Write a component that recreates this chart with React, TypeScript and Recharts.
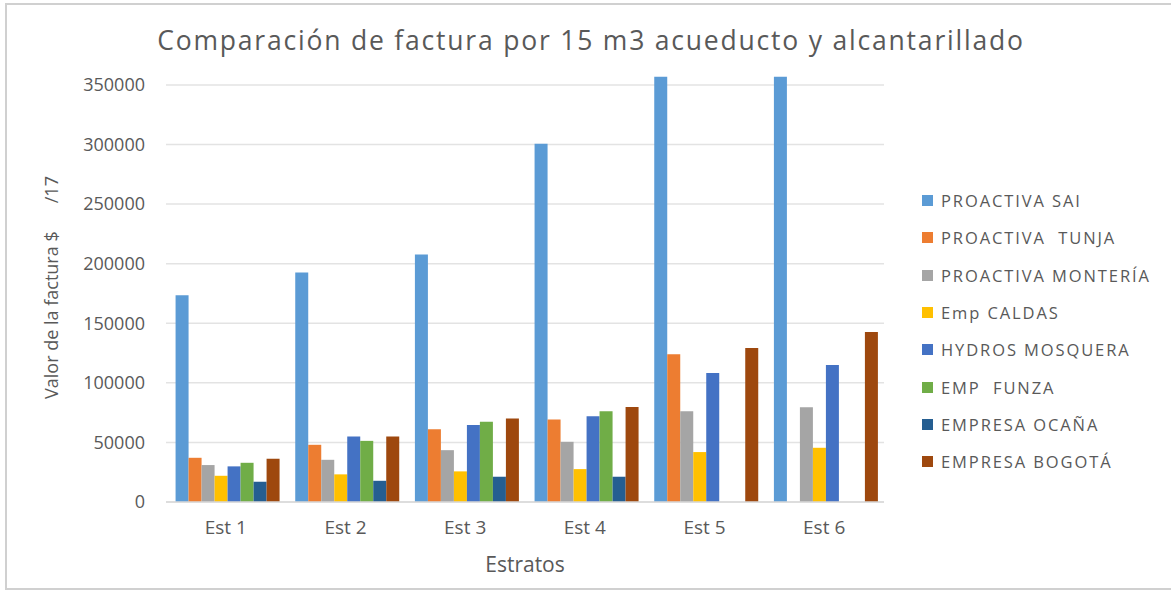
import React from "react";
import { BarChart, Bar, XAxis, YAxis, CartesianGrid } from "recharts";

const categories = ["Est 1", "Est 2", "Est 3", "Est 4", "Est 5", "Est 6"];

const proactivaSai = [173600, 192600, 207700, 300700, 356800, 356800];
const proactivaTunja = [37100, 48000, 61100, 69300, 124000, null];
const proactivaMonteria = [31000, 35400, 43500, 50500, 76200, 79600];
const empCaldas = [22000, 23200, 25700, 27600, 41900, 45500];
const hydrosMosquera = [29900, 55000, 64700, 72000, 108300, 115000];
const empFunza = [32900, 51300, 67300, 76200, null, null];
const empresaOcana = [17000, 17800, 21200, 21200, null, null];
const empresaBogota = [36300, 55000, 70100, 79800, 129200, 142600];

const yTicks = [0, 50000, 100000, 150000, 200000, 250000, 300000, 350000];
const yMax = 360000;

const series = [
  { key: "sai", name: "PROACTIVA SAI", color: "#5B9BD5", values: proactivaSai },
  { key: "tunja", name: "PROACTIVA  TUNJA", color: "#ED7D31", values: proactivaTunja },
  { key: "monteria", name: "PROACTIVA MONTERÍA", color: "#A5A5A5", values: proactivaMonteria },
  { key: "caldas", name: "Emp CALDAS", color: "#FFC000", values: empCaldas },
  { key: "mosquera", name: "HYDROS MOSQUERA", color: "#4472C4", values: hydrosMosquera },
  { key: "funza", name: "EMP  FUNZA", color: "#70AD47", values: empFunza },
  { key: "ocana", name: "EMPRESA OCAÑA", color: "#255E91", values: empresaOcana },
  { key: "bogota", name: "EMPRESA BOGOTÁ", color: "#9E480E", values: empresaBogota },
];

const data = categories.map((c, i) => {
  const row: Record<string, string | number | null> = { cat: c };
  series.forEach((s) => {
    row[s.key] = s.values[i];
  });
  return row;
});

const FONT = "'Open Sans', 'Liberation Sans', sans-serif";
const TEXT = "#595959";

// grid only at the tick values, no line at the top edge of the plot
function gridRows(props: any) {
  const scale = props?.yAxis?.scale;
  if (typeof scale === "function") return yTicks.map((t) => scale(t));
  const top = props?.offset?.top ?? 0;
  const h = props?.offset?.height ?? 0;
  return yTicks.map((t) => top + h * (1 - t / yMax));
}

function LegendList() {
  return (
    <div
      style={{
        position: "absolute",
        left: 922,
        top: 182,
        fontFamily: FONT,
        fontSize: 16.5,
        letterSpacing: 1.9,
        color: TEXT,
      }}
    >
      {series.map((s) => (
        <div
          key={s.key}
          style={{ display: "flex", alignItems: "center", height: 37.3, whiteSpace: "pre" }}
        >
          <span
            style={{
              display: "inline-block",
              width: 11,
              height: 11,
              background: s.color,
              marginRight: 8,
            }}
          />
          {s.name}
        </div>
      ))}
    </div>
  );
}

export default function App() {
  return (
    <div
      style={{
        position: "absolute",
        left: 0,
        top: 0,
        width: 1171,
        height: 597,
        background: "#fff",
        fontFamily: FONT,
      }}
    >
      <div
        style={{
          position: "absolute",
          left: 5,
          top: 3,
          width: 1166,
          height: 587,
          borderLeft: "2px solid #d0d0d0",
          borderTop: "2px solid #d0d0d0",
          borderBottom: "2px solid #d0d0d0",
          boxSizing: "border-box",
        }}
      />
      <div
        style={{
          position: "absolute",
          left: 0,
          top: 22,
          width: 1182,
          textAlign: "center",
          fontSize: 26.5,
          letterSpacing: 1.8,
          color: TEXT,
        }}
      >
        Comparación de factura por 15 m3 acueducto y alcantarillado
      </div>
      <div style={{ position: "absolute", left: 0, top: 0 }}>
        <BarChart
          width={1171}
          height={597}
          data={data}
          margin={{ top: 73, right: 287, left: 0, bottom: 20 }}
          barCategoryGap="8%"
          barGap={0}
        >
          <CartesianGrid
            vertical={false}
            stroke="#e3e3e3"
            strokeWidth={1.5}
            horizontalCoordinatesGenerator={gridRows}
          />
          <XAxis
            dataKey="cat"
            height={75}
            tick={{ fill: TEXT, fontSize: 19, fontFamily: FONT }}
            tickLine={false}
            axisLine={{ stroke: "#d9d9d9", strokeWidth: 1.5 }}
            tickMargin={13}
            label={{
              value: "Estratos",
              position: "insideBottom",
              offset: 5,
              fill: TEXT,
              fontSize: 21,
              fontFamily: FONT,
            }}
          />
          <YAxis
            width={166}
            domain={[0, yMax]}
            ticks={yTicks}
            tick={{ fill: TEXT, fontSize: 18, fontFamily: FONT }}
            tickLine={false}
            axisLine={false}
            tickMargin={15}
            interval={0}
            label={{
              value: "Valor de la factura $\u00A0\u00A0\u00A0\u00A0\u00A0\u00A0/17",
              angle: -90,
              position: "insideLeft",
              offset: 52,
              fill: TEXT,
              fontSize: 18,
              fontFamily: FONT,
              style: { textAnchor: "middle" },
            }}
          />
          {series.map((s) => (
            <Bar
              key={s.key}
              dataKey={s.key}
              name={s.name}
              fill={s.color}
              isAnimationActive={false}
            />
          ))}
        </BarChart>
      </div>
      <LegendList />
    </div>
  );
}
